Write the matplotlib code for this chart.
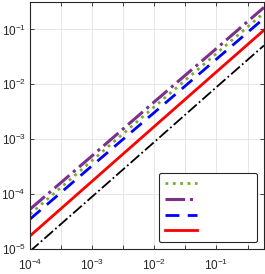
import numpy as np
import matplotlib.pyplot as plt
from matplotlib.ticker import FixedLocator, FuncFormatter

plt.rcParams['font.family'] = ['Liberation Sans', 'DejaVu Sans']
plt.rcParams['mathtext.fontset'] = 'custom'
plt.rcParams['mathtext.rm'] = 'Liberation Sans'
plt.rcParams['mathtext.it'] = 'Liberation Sans:italic'
plt.rcParams['mathtext.bf'] = 'Liberation Sans:bold'

# data
x = [1e-4, 1e-3, 1e-2, 1e-1, 0.58]
y_green = [4.3e-5, 4.1e-4, 3.9e-3, 3.65e-2, 0.20]
y_purple = [5.3e-5, 5.0e-4, 4.8e-3, 4.5e-2, 0.252]
y_blue = [3.5e-5, 3.3e-4, 3.07e-3, 2.88e-2, 0.159]
y_red = [1.73e-5, 1.72e-4, 1.71e-3, 1.69e-2, 0.097]
y_black = [9.1e-6, 9.0e-5, 8.9e-4, 8.9e-3, 0.051]
xticks = [1e-4, 10**-3.5, 1e-3, 10**-2.5, 1e-2, 10**-1.5, 1e-1, 10**-0.5]
yticks = [1e-5, 1e-4, 1e-3, 1e-2, 1e-1]

fig = plt.figure(figsize=(2.65, 2.74), dpi=100)
ax = fig.add_axes([0.1132, 0.0912, 0.8828, 0.9026])

ax.plot(x, y_black, color='k', linestyle='-.', lw=1.3)
l1, = ax.plot(x, y_green, color='#77AC30', linestyle=':', lw=2.0)
l2, = ax.plot(x, y_purple, color='#7E2F8E', linestyle='-.', lw=2.2)
l3, = ax.plot(x, y_blue, color='#0000FF', linestyle=(0, (5, 3)), lw=2.0)
l4, = ax.plot(x, y_red, color='#FF0000', linestyle='-', lw=2.0)

ax.set_xscale('log')
ax.set_yscale('log')
ax.set_xlim(1e-4, 0.58)
ax.set_ylim(1e-5, 0.32)

ax.xaxis.set_major_locator(FixedLocator(xticks))
ax.yaxis.set_major_locator(FixedLocator(yticks))
ax.xaxis.set_minor_locator(FixedLocator([]))
ax.yaxis.set_minor_locator(FixedLocator([]))


def fmt(v, pos):
    e = np.log10(v)
    if abs(e - round(e)) > 1e-6:
        return ''
    return r'$10^{%d}$' % int(round(e))


ax.xaxis.set_major_formatter(FuncFormatter(fmt))
ax.yaxis.set_major_formatter(FuncFormatter(fmt))
ax.tick_params(which='both', direction='in', top=True, right=True,
               length=3, width=0.6, color='#262626', labelsize=8.5,
               labelcolor='#262626')
ax.tick_params(axis='x', pad=6)
ax.tick_params(axis='y', pad=3)
ax.grid(True, color='#e6e6e6', lw=0.7)
ax.set_axisbelow(True)
for s in ax.spines.values():
    s.set_color('#262626')
    s.set_linewidth(0.8)

leg = ax.legend([l1, l2, l3, l4], ['\u2003' * 4] * 4,
                loc='lower right',
                bbox_to_anchor=(0.970, 0.028), borderaxespad=0,
                handlelength=2.9, handletextpad=0.8,
                labelspacing=0.5, borderpad=0.55, fontsize=8,
                fancybox=True, framealpha=1, edgecolor='#262626')
leg.get_frame().set_linewidth(0.8)

fig.savefig('out.png', dpi=100)
